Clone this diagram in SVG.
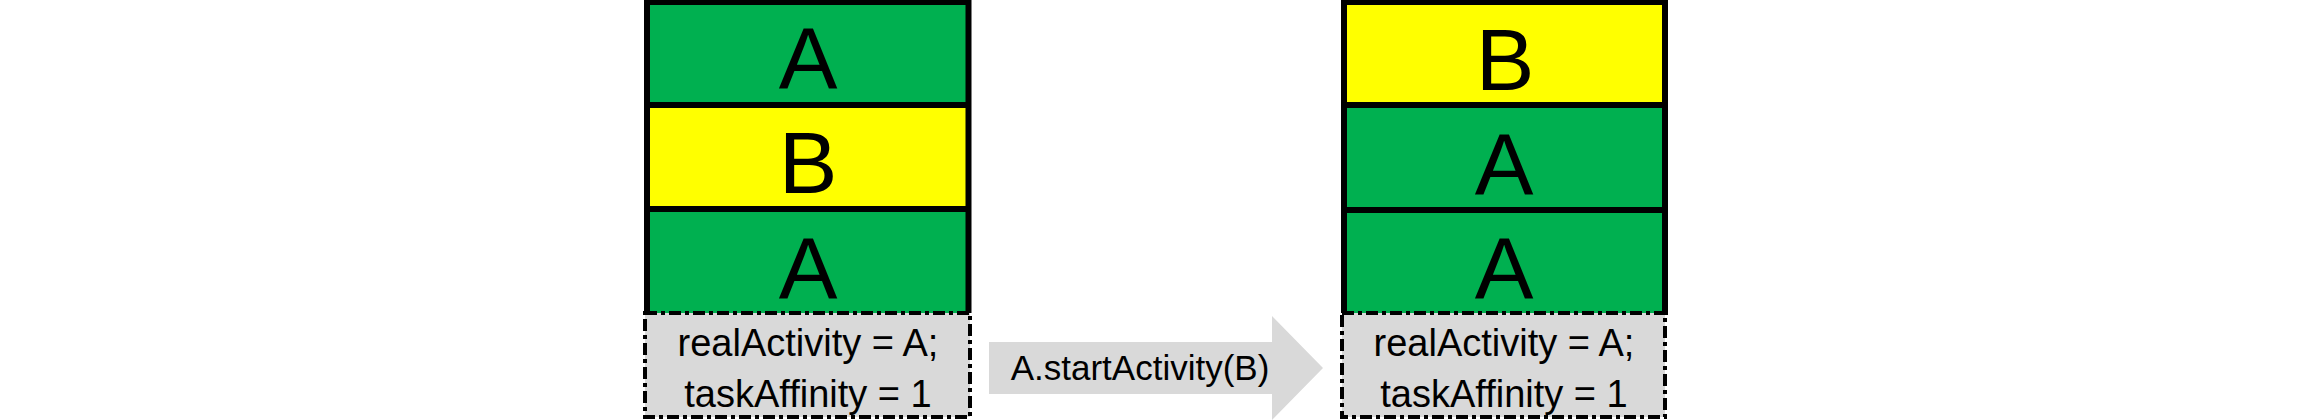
<svg xmlns="http://www.w3.org/2000/svg" width="2312" height="420" viewBox="0 0 2312 420">
<style>
.g{fill:#00B050}
.y{fill:#FFFF00}
.frame{fill:none;stroke:#000;stroke-width:6}
.info{fill:#D9D9D9;stroke:#000;stroke-width:4;stroke-dasharray:12 4 4 4}
.big{font-family:"Liberation Sans",Arial,sans-serif;font-size:88px;fill:#000;text-anchor:middle}
.sm{font-family:"Liberation Sans",Arial,sans-serif;font-size:38px;fill:#000;text-anchor:middle}
.lbl{font-family:"Liberation Sans",Arial,sans-serif;font-size:35px;fill:#000;text-anchor:middle}
</style>
<rect width="2312" height="420" fill="#fff"/>
<g id="left-stack">
<rect class="g" x="647" y="2" width="322" height="103"/>
<rect class="y" x="647" y="105" width="322" height="104"/>
<rect class="g" x="647" y="209" width="322" height="104"/>
<path class="frame" d="M647,313 V2 H968.5 V313 M647,105 H968.5 M647,209 H968.5"/>
<text class="big" x="808" y="89">A</text>
<text class="big" x="808" y="193">B</text>
<text class="big" x="808" y="299">A</text>
<rect class="info" x="645" y="313" width="325" height="104"/>
<text class="sm" x="808" y="356">realActivity = A;</text>
<text class="sm" x="808" y="407">taskAffinity = 1</text>
</g>
<g id="connectors">
<polygon points="989,342 1272,342 1272,316 1323,368 1272,420 1272,394 989,394" fill="#D9D9D9"/>
<text class="lbl" x="1140" y="380">A.startActivity(B)</text>
</g>
<g id="right-stack">
<rect class="y" x="1344" y="2" width="321" height="103"/>
<rect class="g" x="1344" y="105" width="321" height="105"/>
<rect class="g" x="1344" y="210" width="321" height="103"/>
<path class="frame" d="M1344,313 V2 H1665 V315 M1344,105 H1665 M1344,210 H1665"/>
<text class="big" x="1505" y="90">B</text>
<text class="big" x="1504" y="195">A</text>
<text class="big" x="1504" y="299">A</text>
<rect class="info" x="1342" y="313" width="323" height="104"/>
<text class="sm" x="1504" y="356">realActivity = A;</text>
<text class="sm" x="1504" y="407">taskAffinity = 1</text>
</g>
</svg>
